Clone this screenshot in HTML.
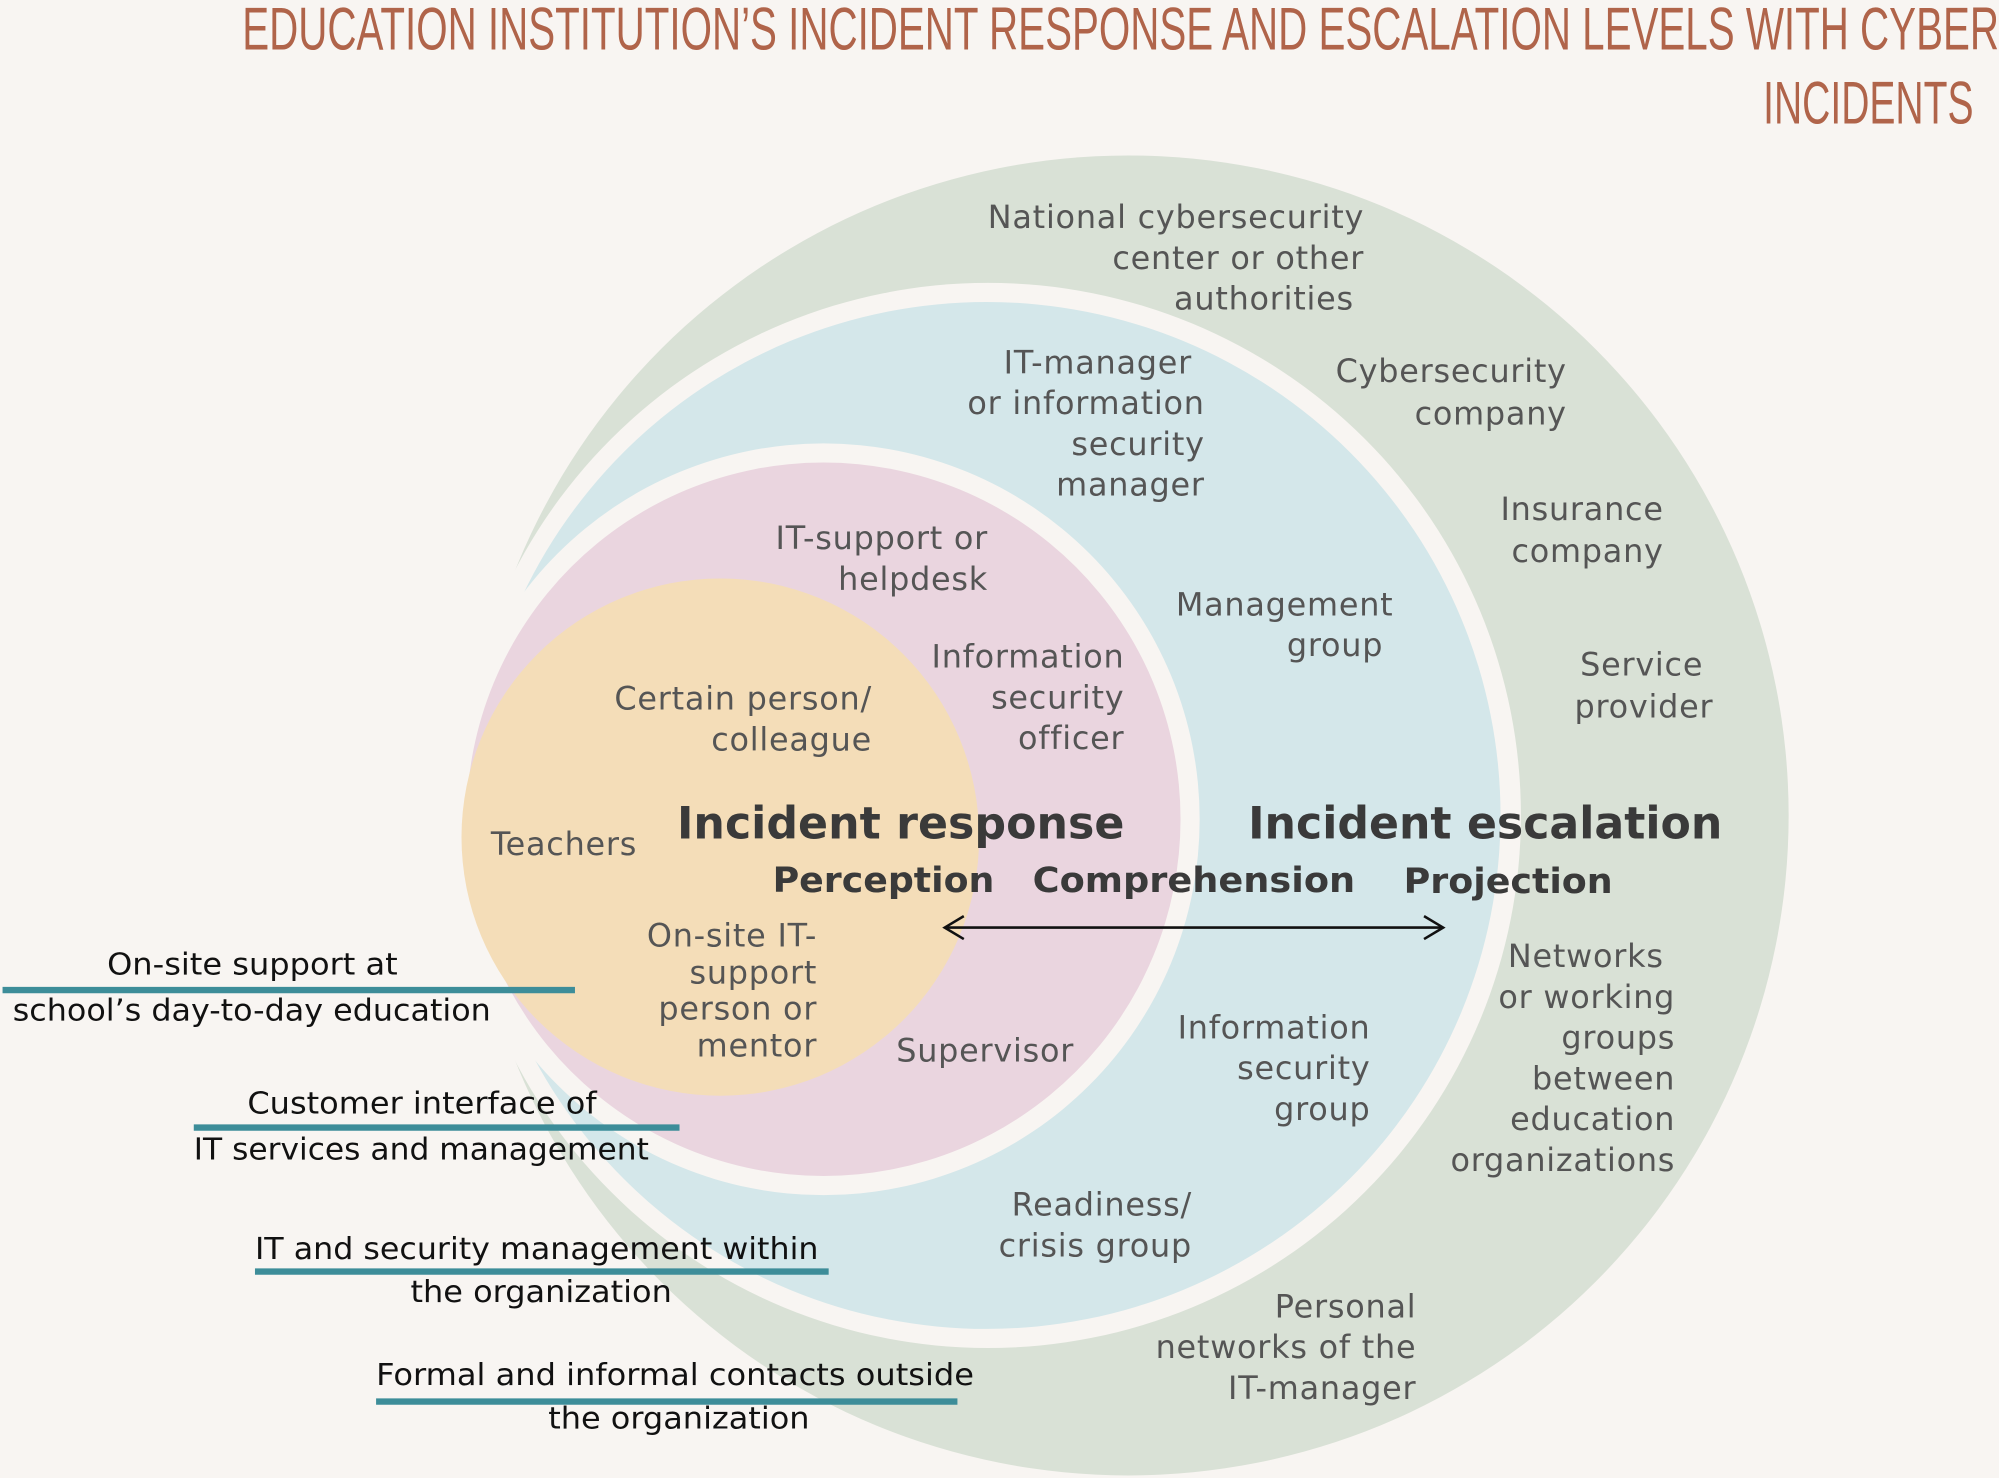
<!DOCTYPE html>
<html><head><meta charset="utf-8"><style>
html,body{margin:0;padding:0;background:#f8f5f2;}
svg{display:block}
text{font-family:"DejaVu Sans","Liberation Sans",sans-serif;}
.l{font-size:25px;fill:#555;letter-spacing:0.6px;}
.b{font-weight:bold;fill:#3a3a3a;}
.k{font-size:24px;fill:#111;}
</style></head><body>
<svg width="1999" height="1478" viewBox="0 0 1568 1160" preserveAspectRatio="none" xmlns="http://www.w3.org/2000/svg">
<rect width="1568" height="1160" fill="#f8f5f2"/>
<circle cx="885" cy="640" r="518" fill="#d9e1d6"/>
<circle cx="775" cy="640" r="418" fill="#f8f5f2"/>
<circle cx="774" cy="640" r="403" fill="#d4e7ea"/>
<circle cx="646" cy="643" r="295" fill="#f8f5f2"/>
<circle cx="646" cy="643" r="280" fill="#ead5df"/>
<circle cx="565" cy="657" r="203" fill="#f4ddb8"/>

<text x="190" y="39" font-size="47" fill="#b0644a" style="font-family:'Liberation Sans',sans-serif" textLength="1378" lengthAdjust="spacingAndGlyphs">EDUCATION INSTITUTION’S INCIDENT RESPONSE AND ESCALATION LEVELS WITH CYBER</text>
<text x="1383" y="97" font-size="47" fill="#b0644a" style="font-family:'Liberation Sans',sans-serif" textLength="165" lengthAdjust="spacingAndGlyphs">INCIDENTS</text>

<g class="l" text-anchor="end">
<text x="1070" y="179">National cybersecurity</text>
<text x="1070" y="211">center or other</text>
<text x="1062" y="243">authorities</text>
<text x="1229" y="300">Cybersecurity</text>
<text x="1229" y="333">company</text>
<text x="1305" y="408">Insurance</text>
<text x="1305" y="441">company</text>
<text x="1336" y="530">Service</text>
<text x="1344" y="563">provider</text>
<text x="935" y="293">IT-manager</text>
<text x="945" y="325">or information</text>
<text x="945" y="357">security</text>
<text x="945" y="389">manager</text>
<text x="775" y="431">IT-support or</text>
<text x="775" y="463">helpdesk</text>
<text x="1093" y="483">Management</text>
<text x="1085" y="515">group</text>
<text x="882" y="524">Information</text>
<text x="882" y="556">security</text>
<text x="882" y="588">officer</text>
<text x="684" y="557">Certain person/</text>
<text x="684" y="589">colleague</text>
<text x="641" y="743">On-site IT-</text>
<text x="641" y="772">support</text>
<text x="641" y="800">person or</text>
<text x="641" y="829">mentor</text>
<text x="1305" y="759">Networks</text>
<text x="1314" y="791">or working</text>
<text x="1314" y="823">groups</text>
<text x="1314" y="855">between</text>
<text x="1314" y="887">education</text>
<text x="1314" y="919">organizations</text>
<text x="1075" y="815">Information</text>
<text x="1075" y="847">security</text>
<text x="1075" y="879">group</text>
<text x="935" y="954">Readiness/</text>
<text x="935" y="986">crisis group</text>
<text x="1111" y="1034">Personal</text>
<text x="1111" y="1066">networks of the</text>
<text x="1111" y="1098">IT-manager</text>
</g>
<text class="l" x="385" y="671">Teachers</text>
<text class="l" x="703" y="833">Supervisor</text>

<text class="b" x="531" y="658" font-size="35" textLength="351" lengthAdjust="spacingAndGlyphs">Incident response</text>
<text class="b" x="979" y="658" font-size="35" textLength="372" lengthAdjust="spacingAndGlyphs">Incident escalation</text>
<text class="b" x="606" y="700" font-size="27" textLength="174" lengthAdjust="spacingAndGlyphs">Perception</text>
<text class="b" x="810" y="700" font-size="27" textLength="253" lengthAdjust="spacingAndGlyphs">Comprehension</text>
<text class="b" x="1101" y="701" font-size="27" textLength="164" lengthAdjust="spacingAndGlyphs">Projection</text>

<line x1="742" y1="728" x2="1131" y2="728" stroke="#111" stroke-width="2"/>
<polyline points="756,719 741,728 756,737" fill="none" stroke="#111" stroke-width="2"/>
<polyline points="1117,719 1132,728 1117,737" fill="none" stroke="#111" stroke-width="2"/>

<g class="k">
<text x="84" y="765" textLength="228" lengthAdjust="spacingAndGlyphs">On-site support at</text>
<text x="10" y="801" textLength="375" lengthAdjust="spacingAndGlyphs">school’s day-to-day education</text>
<text x="194" y="874" textLength="274" lengthAdjust="spacingAndGlyphs">Customer interface of</text>
<text x="152" y="910" textLength="357" lengthAdjust="spacingAndGlyphs">IT services and management</text>
<text x="200" y="988" textLength="442" lengthAdjust="spacingAndGlyphs">IT and security management within</text>
<text x="322" y="1022" textLength="205" lengthAdjust="spacingAndGlyphs">the organization</text>
<text x="295" y="1087" textLength="469" lengthAdjust="spacingAndGlyphs">Formal and informal contacts outside</text>
<text x="430" y="1121" textLength="205" lengthAdjust="spacingAndGlyphs">the organization</text>
</g>
<g stroke="#3d8d99" stroke-width="5">
<line x1="2" y1="777" x2="451" y2="777"/>
<line x1="152" y1="885" x2="533" y2="885"/>
<line x1="200" y1="998" x2="650" y2="998"/>
<line x1="295" y1="1100" x2="751" y2="1100"/>
</g>
</svg>
</body></html>
